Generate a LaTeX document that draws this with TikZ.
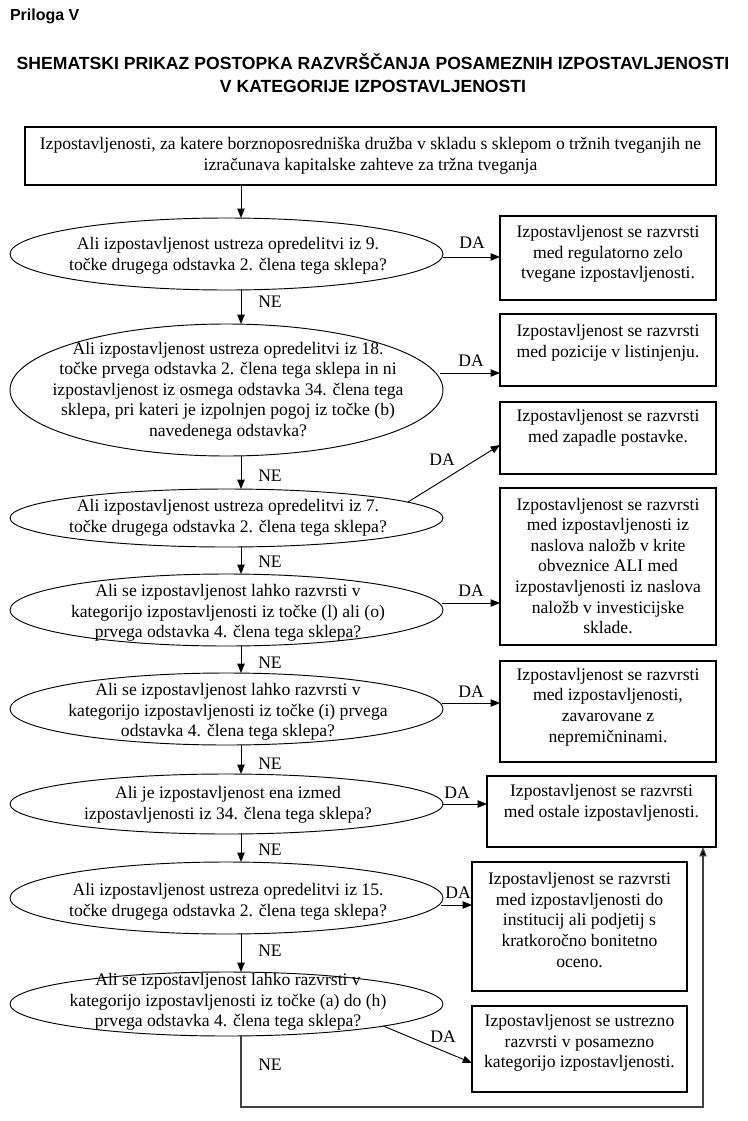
\documentclass[tikz,border=0pt]{standalone}
\usepackage{fontspec}
\setmainfont{Liberation Serif}
\newfontfamily\titlefont{Liberation Sans}
\usetikzlibrary{arrows.meta,calc,shapes.geometric}
\begin{document}
\begin{tikzpicture}[x=0.75pt,y=-0.75pt,
  every node/.style={inner sep=0pt,outer sep=0pt},
  boxshape/.style={draw,line width=0.8pt,rectangle},
  ellshape/.style={draw,line width=0.7pt,ellipse,minimum width=324.75pt},
  txt/.style={align=center,font=\fontsize{13.2pt}{15.4pt}\selectfont},
  lbl/.style={font=\fontsize{13.2pt}{15pt}\selectfont},
  ttl/.style={font=\titlefont\bfseries\fontsize{13.2pt}{17pt}\selectfont,align=center},
  prl/.style={font=\titlefont\bfseries\fontsize{12pt}{14pt}\selectfont},
  arr/.style={line width=0.7pt,-{Triangle[length=7pt,width=5.5pt]}},
  loopline/.style={line width=0.9pt,draw=black!75,-{Triangle[length=7pt,width=5.5pt,fill=black]}}]
\useasboundingbox (0,0) rectangle (747,1121);
% titles
\node[prl,anchor=west] (prl) at (10,16) {Priloga V};
\node[ttl] (title) at (373,73) {SHEMATSKI PRIKAZ POSTOPKA RAZVRŠČANJA POSAMEZNIH IZPOSTAVLJENOSTI\\V KATEGORIJE IZPOSTAVLJENOSTI};
% spine
\coordinate (spine) at (241,0);
% top box
\node[boxshape,minimum width=518.25pt,minimum height=43.5pt] (top) at (370.5,156) {};
\node[txt] (topt) at (370.5,156) {Izpostavljenosti, za katere borznoposredniška družba v skladu s sklepom o tržnih tveganjih ne\\izračunava kapitalske zahteve za tržna tveganja};
% ellipses
\node[ellshape,minimum height=54pt] (E1) at (226.5,254) {};
\node[ellshape,minimum height=99pt] (E2) at (226.5,390) {};
\node[ellshape,minimum height=43.5pt] (E3) at (226.5,518) {};
\node[ellshape,minimum height=54pt] (E4) at (226.5,610) {};
\node[ellshape,minimum height=54pt] (E5) at (226.5,709) {};
\node[ellshape,minimum height=45pt] (E6) at (226.5,804) {};
\node[ellshape,minimum height=54pt] (E7) at (226.5,898) {};
\node[ellshape,minimum height=48pt] (E8) at (226.5,1004) {};
\node[txt] (E1t) at (228,256) {Ali izpostavljenost ustreza opredelitvi iz 9.\\točke drugega odstavka 2. člena tega sklepa?};
\node[txt] (E2t) at (228,391) {Ali izpostavljenost ustreza opredelitvi iz 18.\\točke prvega odstavka 2. člena tega sklepa in ni\\izpostavljenost iz osmega odstavka 34. člena tega\\sklepa, pri kateri je izpolnjen pogoj iz točke (b)\\navedenega odstavka?};
\node[txt] (E3t) at (228,518) {Ali izpostavljenost ustreza opredelitvi iz 7.\\točke drugega odstavka 2. člena tega sklepa?};
\node[txt] (E4t) at (228,613) {Ali se izpostavljenost lahko razvrsti v\\kategorijo izpostavljenosti iz točke (l) ali (o)\\prvega odstavka 4. člena tega sklepa?};
\node[txt] (E5t) at (228,712) {Ali se izpostavljenost lahko razvrsti v\\kategorijo izpostavljenosti iz točke (i) prvega\\odstavka 4. člena tega sklepa?};
\node[txt] (E6t) at (228,805) {Ali je izpostavljenost ena izmed\\izpostavljenosti iz 34. člena tega sklepa?};
\node[txt] (E7t) at (228,902) {Ali izpostavljenost ustreza opredelitvi iz 15.\\točke drugega odstavka 2. člena tega sklepa?};
\node[txt] (E8t) at (228,1002) {Ali se izpostavljenost lahko razvrsti v\\kategorijo izpostavljenosti iz točke (a) do (h)\\prvega odstavka 4. člena tega sklepa?};
% boxes
\node[boxshape,minimum width=162pt,minimum height=63pt] (B1) at (608,258) {};
\node[boxshape,minimum width=162pt,minimum height=54pt] (B2) at (608,350) {};
\node[boxshape,minimum width=162pt,minimum height=54pt] (B3) at (608,438) {};
\node[boxshape,minimum width=162pt,minimum height=117.75pt] (B4) at (608,566.5) {};
\node[boxshape,minimum width=162pt,minimum height=75.75pt] (B5) at (608,711.5) {};
\node[boxshape,minimum width=171.75pt,minimum height=53.25pt] (B6) at (601.5,811.5) {};
\node[boxshape,minimum width=161.25pt,minimum height=96.75pt] (B7) at (579.5,926.5) {};
\node[boxshape,minimum width=161.25pt,minimum height=64.5pt] (B8) at (579.5,1049) {};
\node[txt] (B1t) at (608,254) {Izpostavljenost se razvrsti\\med regulatorno zelo\\tvegane izpostavljenosti.};
\node[txt] (B2t) at (608,343) {Izpostavljenost se razvrsti\\med pozicije v listinjenju.};
\node[txt] (B3t) at (608,428) {Izpostavljenost se razvrsti\\med zapadle postavke.};
\node[txt] (B4t) at (608,566) {Izpostavljenost se razvrsti\\med izpostavljenosti iz\\naslova naložb v krite\\obveznice ALI med\\izpostavljenosti iz naslova\\naložb v investicijske\\sklade.};
\node[txt] (B5t) at (608,707) {Izpostavljenost se razvrsti\\med izpostavljenosti,\\zavarovane z\\nepremičninami.};
\node[txt] (B6t) at (601.5,803) {Izpostavljenost se razvrsti\\med ostale izpostavljenosti.};
\node[txt] (B7t) at (579.5,920) {Izpostavljenost se razvrsti\\med izpostavljenosti do\\institucij ali podjetij s\\kratkoročno bonitetno\\oceno.};
\node[txt] (B8t) at (579.5,1043) {Izpostavljenost se ustrezno\\razvrsti v posamezno\\kategorijo izpostavljenosti.};
% vertical NE arrows
\draw[arr] (top.south -| spine) -- (E1.north -| spine);
\draw[arr] (E1.south -| spine) -- (E2.north -| spine);
\draw[arr] (E2.south -| spine) -- (E3.north -| spine);
\draw[arr] (E3.south -| spine) -- (E4.north -| spine);
\draw[arr] (E4.south -| spine) -- (E5.north -| spine);
\draw[arr] (E5.south -| spine) -- (E6.north -| spine);
\draw[arr] (E6.south -| spine) -- (E7.north -| spine);
\draw[arr] (E7.south -| spine) -- (E8.north -| spine);
\node[lbl] (ne1) at (270,302) {NE};
\node[lbl] (ne2) at (270,476) {NE};
\node[lbl] (ne3) at (270,562) {NE};
\node[lbl] (ne4) at (270,663) {NE};
\node[lbl] (ne5) at (270,764) {NE};
\node[lbl] (ne6) at (270,850) {NE};
\node[lbl] (ne7) at (270,951) {NE};
\node[lbl] (ne8) at (270,1065) {NE};
% DA arrows
\coordinate (d1) at (0,257);
\coordinate (d2) at (0,373);
\coordinate (d4) at (0,603);
\coordinate (d5) at (0,703);
\coordinate (d6) at (0,804);
\coordinate (d7) at (0,905);
\draw[arr] (E1.east |- d1) -- (B1.west |- d1);
\draw[arr] ($(E2.east |- d2)+(-3,0)$) -- (B2.west |- d2);
\draw[arr] (E3.5) -- ($(B3.west)+(0,7)$);
\draw[arr] ($(E4.east |- d4)+(-1,0)$) -- (B4.west |- d4);
\draw[arr] ($(E5.east |- d5)+(-1,0)$) -- (B5.west |- d5);
\draw[arr] (E6.east |- d6) -- (B6.west |- d6);
\draw[arr] ($(E7.east |- d7)+(-2,0)$) -- (B7.west |- d7);
\draw[arr] (E8.-8) -- ($(B8.west)+(0,14)$);
\node[lbl] (da1) at (472,243) {DA};
\node[lbl] (da2) at (471,361) {DA};
\node[lbl] (da3) at (442,460) {DA};
\node[lbl] (da4) at (471,591) {DA};
\node[lbl] (da5) at (471,692) {DA};
\node[lbl] (da6) at (457,793) {DA};
\node[lbl] (da7) at (458,893) {DA};
\node[lbl] (da8) at (443,1037) {DA};
% loop
\coordinate (loopc) at (703,1107);
\draw[loopline] (E8.south -| spine) |- (loopc) -- (B6.south -| loopc);
\end{tikzpicture}
\end{document}
